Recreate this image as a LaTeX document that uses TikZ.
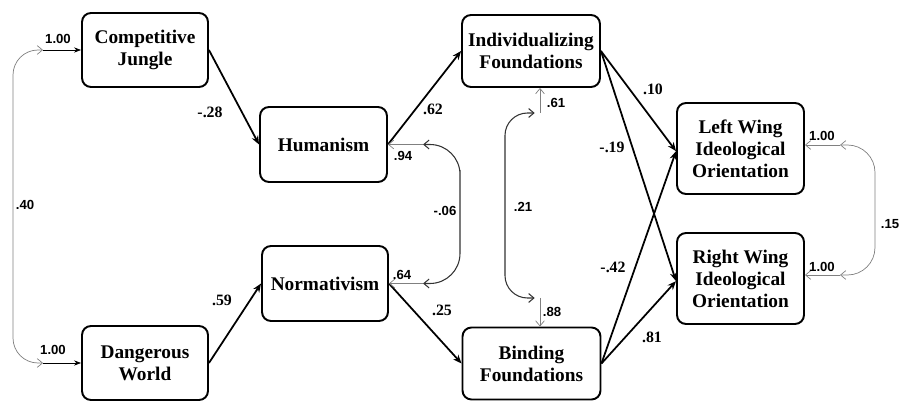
\documentclass[tikz,border=0pt]{standalone}
\usepackage{fontspec}
\setmainfont{Liberation Serif}
\newfontfamily\numfont{Liberation Sans}
\usepackage{tikz}
\usetikzlibrary{arrows.meta,calc}
\tikzset{
  construct/.style={
    draw,
    line width=1.1pt,
    rounded corners=0.18cm,
    align=center,
    inner sep=0pt,
    font=\fontsize{11}{12.5}\selectfont\bfseries
  },
  path/.style={
    line width=1pt,
    -{Stealth[length=5pt,width=4pt]}
  },
  resid/.style={
    draw=gray,
    thin,
    -{Straight Barb[length=3pt,width=5pt]}
  },
  startarrow/.style={
    thin,
    -{Stealth[length=4pt,width=3pt]}
  },
  covar/.style={
    draw=gray,
    thin,
    {Straight Barb[length=3pt,width=5pt]}-{Straight Barb[length=3pt,width=5pt]}
  },
  darkcovar/.style={
    covar,
    draw=black!80,
    semithick
  },
  coef/.style={
    inner sep=1pt,
    font=\fontsize{9}{10}\selectfont\bfseries
  },
  varlab/.style={
    inner sep=1pt,
    font=\numfont\fontsize{7.5}{9}\selectfont\bfseries
  }
}

\begin{document}
\begin{tikzpicture}[x=0.02cm,y=-0.02cm]
    \useasboundingbox (0,0) rectangle (904,402);
    % exogenous
    \node[construct, minimum width=2.52cm, minimum height=1.48cm] (jungle) at (145,50) {Competitive\\Jungle};
    \node[construct, minimum width=2.52cm, minimum height=1.48cm] (danger) at (145,363) {Dangerous\\World};
    % mediators
    \node[construct, minimum width=2.54cm, minimum height=1.50cm] (human) at (323.5,144.5) {Humanism};
    \node[construct, minimum width=2.52cm, minimum height=1.50cm] (norm) at (325,283.5) {Normativism};
    % foundations
    \node[construct, minimum width=2.76cm, minimum height=1.44cm] (indiv) at (531,51) {Individualizing\\Foundations};
    \node[construct, minimum width=2.76cm, minimum height=1.44cm] (bind) at (531.5,363.5) {Binding\\Foundations};
    % outcomes
    \node[construct, minimum width=2.54cm, minimum height=1.82cm] (left) at (740.5,148.5) {Left Wing\\Ideological\\Orientation};
    \node[construct, minimum width=2.54cm, minimum height=1.82cm] (right) at (740.5,278.5) {Right Wing\\Ideological\\Orientation};

    \coordinate (jungleIn) at (43,50);
    \coordinate (dangerIn) at (43,363);
    \coordinate (humanErr) at (423,144.5);
    \coordinate (normErr) at (423,283.5);
    \coordinate (indivErr) at (540,113);
    \coordinate (bindErr) at (540,298);
    \coordinate (leftErr) at (840,145);
    \coordinate (rightErr) at (840,275);

    % structural paths
    \draw[path] (jungle.east) -- (human.west);
    \draw[path] (danger.east) -- (norm.west);
    \draw[path] (human.east) -- (indiv.west);
    \draw[path] (norm.east) -- (bind.west);
    \draw[path] (indiv.east) -- ([yshift=-1.5pt]left.west);
    \draw[path] (indiv.east) -- ([yshift=-1.5pt]right.west);
    \draw[path] (bind.east) -- ([yshift=-1.5pt]left.west);
    \draw[path] (bind.east) -- ([yshift=-1.5pt]right.west);

    % variances
    \draw[startarrow] (jungleIn) -- (jungle.west);
    \draw[startarrow] (dangerIn) -- (danger.west);
    \draw[resid] (humanErr) -- (human.east);
    \draw[resid] (normErr) -- (norm.east);
    \draw[resid] (indivErr) -- (indiv.south -| indivErr);
    \draw[resid] (bindErr) -- (bind.north -| bindErr);
    \draw[resid] (leftErr) -- (left.east |- leftErr);
    \draw[resid] (rightErr) -- (right.east |- rightErr);

    % covariances
    \draw[covar, rounded corners=0.5cm] (jungleIn) -| (13,200) |- (dangerIn);
    \draw[darkcovar, rounded corners=0.6cm] (humanErr) -| (460,200) |- (normErr);
    \draw[darkcovar, rounded corners=0.45cm] ([xshift=-3pt]indivErr) -| (505,200) |- ([xshift=-3pt]bindErr);
    \draw[covar, rounded corners=0.55cm] (leftErr) -| (875,200) |- (rightErr);

    % estimates
    \node[varlab] (vJungle) at (58,39) {1.00};
    \node[varlab] (vDanger) at (53,350) {1.00};
    \node[varlab] (cExo) at (25,205) {.40};
    \node[coef] (bJH) at (210,112) {-.28};
    \node[coef] (bDN) at (222,300) {.59};
    \node[coef] (bHI) at (433,109) {.62};
    \node[coef] (bNB) at (442,310) {.25};
    \node[varlab] (vHuman) at (403,156) {.94};
    \node[varlab] (vNorm) at (402,275) {.64};
    \node[varlab] (cMed) at (445,211) {-.06};
    \node[varlab] (vIndiv) at (556,103) {.61};
    \node[varlab] (vBind) at (552,312) {.88};
    \node[varlab] (cFound) at (523,207) {.21};
    \node[coef] (bIL) at (653,89) {.10};
    \node[coef] (bIR) at (612,147) {-.19};
    \node[coef] (bBL) at (613,267) {-.42};
    \node[coef] (bBR) at (652,337) {.81};
    \node[varlab] (vLeft) at (822,136) {1.00};
    \node[varlab] (vRight) at (822,267) {1.00};
    \node[varlab] (cOut) at (890,224) {.15};
\end{tikzpicture}
\end{document}
